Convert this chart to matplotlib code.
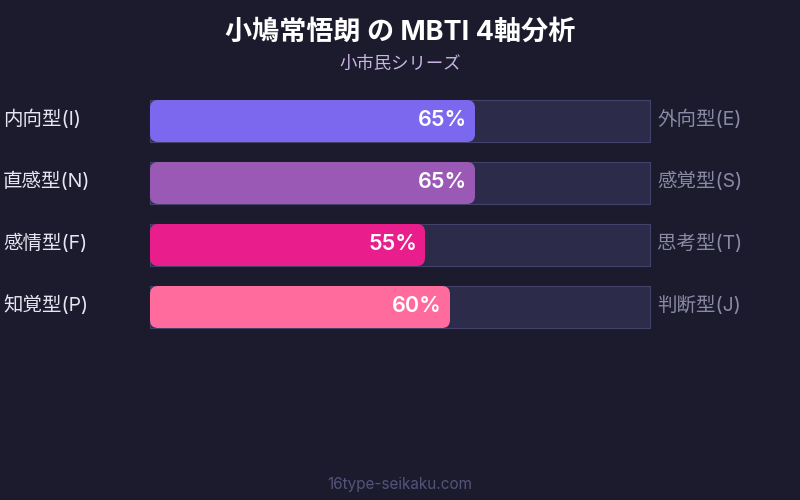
import matplotlib
matplotlib.use("Agg")
import matplotlib.pyplot as plt
from matplotlib.patches import FancyBboxPatch, Rectangle

plt.rcParams['font.family'] = ['Inter', 'Noto Sans CJK JP', 'DejaVu Sans']

title = "小鳩常悟朗 の MBTI 4軸分析"
subtitle = "小市民シリーズ"
footer = "16type-seikaku.com"

left_labels = ["内向型(I)", "直感型(N)", "感情型(F)", "知覚型(P)"]
right_labels = ["外向型(E)", "感覚型(S)", "思考型(T)", "判断型(J)"]
values = [65, 65, 55, 60]
colors = ["#7b68ee", "#9b59b6", "#e91e8c", "#ff6b9d"]

bg = "#1b1b2d"
track = "#2d2b4a"
track_edge = "#44426a"

fig = plt.figure(figsize=(8, 5), dpi=100, facecolor=bg)

# bar area: 150..650 px wide, 100..328 px tall
ax = fig.add_axes([150 / 800, 1 - 328 / 500, 500 / 800, 228 / 500])
ax.set_facecolor("none")
bar_h = 42 / 62
ax.set_xlim(0, 100)
ax.set_ylim(len(values) - 1 + bar_h / 2, -bar_h / 2)
ax.axis("off")

# aspect between y and x data units, for round corners
aspect = (1 / 62) / (1 / 5)
lift = 1.5 / 62  # text sits a little above bar centre

for i, (v, c) in enumerate(zip(values, colors)):
    y0 = i - bar_h / 2
    ax.add_patch(Rectangle((0, y0), 100, bar_h, facecolor=track,
                           edgecolor=track_edge, linewidth=0.8, clip_on=False))
    ax.add_patch(FancyBboxPatch((0, y0), v, bar_h,
                                boxstyle="round,pad=0,rounding_size=1.6",
                                mutation_aspect=aspect,
                                facecolor=c, edgecolor="none", clip_on=False))
    ax.text(v - 1.6, i - lift, f"{v}%", ha="right", va="center",
            fontsize=15.5, fontweight="semibold", color="white")
    ax.text(-29.4, i - lift, left_labels[i], ha="left", va="center",
            fontsize=14, color="#e6e6f2", clip_on=False)
    ax.text(101.4, i - lift, right_labels[i], ha="left", va="center",
            fontsize=14, color="#8a8aa6", clip_on=False)

fig.text(0.5, 1 - 33 / 500, title, ha="center", va="center",
         fontsize=19.5, fontweight="bold", color="white")
fig.text(0.5, 1 - 64 / 500, subtitle, ha="center", va="center",
         fontsize=12.5, color="#c9b6e6")
fig.text(0.5, 1 - 484 / 500, footer, ha="center", va="center",
         fontsize=11, color="#54547a")

fig.savefig("out.png", dpi=100, facecolor=bg)
